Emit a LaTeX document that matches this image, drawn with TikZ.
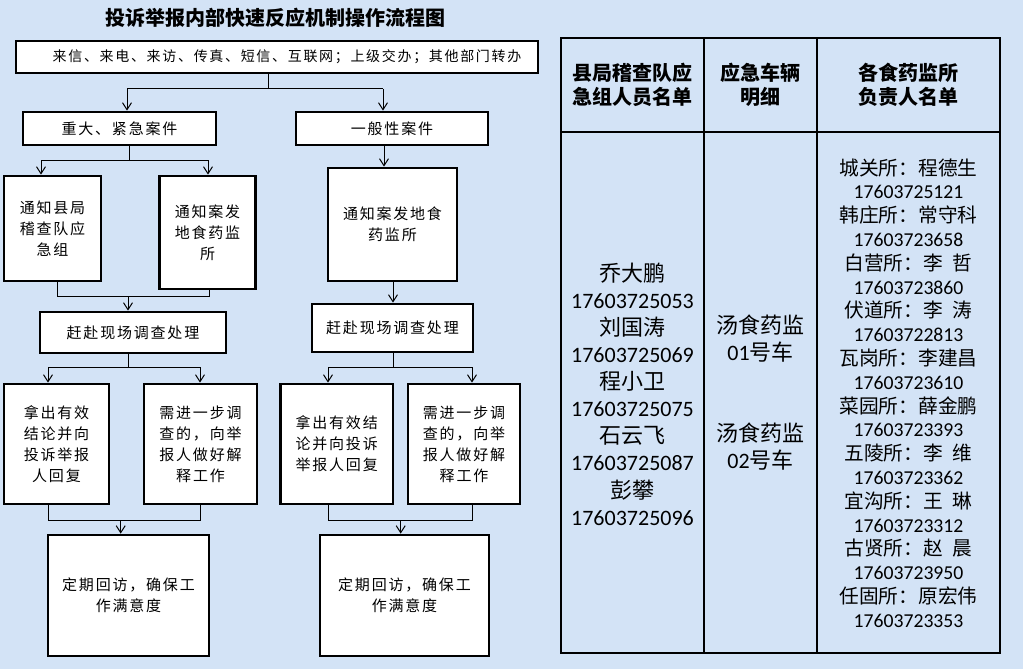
\documentclass[tikz,border=0pt]{standalone}
\usepackage{fontspec}
\usetikzlibrary{arrows.meta}
\newfontfamily\cjk{Noto Sans CJK SC}
\newfontfamily\boxcjk[LetterSpace=12]{Noto Sans CJK SC}
\newfontfamily\lat{Carlito}
\definecolor{bgblue}{RGB}{211,227,246}
\tikzset{
  fbox/.style={draw=black, line width=2.8pt, fill=white, align=center, inner sep=0pt,
    font=\boxcjk\fontsize{15}{21}\selectfont},
  ln/.style={line width=1pt, draw=black},
  arr/.style={ln, -{Straight Barb[length=7pt,width=9pt,line width=1pt]}},
  tline/.style={line width=1.1pt, draw=black},
  thead/.style={align=center, inner sep=0pt, font=\cjk\bfseries\fontsize{20}{24}\selectfont},
  tbig/.style={align=center, inner sep=0pt, font=\cjk\fontsize{22}{27.1}\selectfont},
  tsmall/.style={align=center, inner sep=0pt, font=\cjk\fontsize{19.7}{23.8}\selectfont},
}
\begin{document}
\begin{tikzpicture}[x=1pt,y=-1pt]
\useasboundingbox (0,0) rectangle (1023,669);
\fill[bgblue] (0,0) rectangle (1023,669);

% title
\node[font=\cjk\bfseries\fontsize{20}{24}\selectfont] (title) at (275,18) {投诉举报内部快速反应机制操作流程图};

% flowchart boxes
\node[fbox, minimum width=522, minimum height=32, font=\boxcjk\fontsize{14}{18}\selectfont] (src) at (277,57) {\hspace*{20pt}来信、来电、来访、传真、短信、互联网；上级交办；其他部门转办};
\node[fbox, minimum width=193, minimum height=33] (A) at (119.5,128.5) {重大、紧急案件};
\node[fbox, minimum width=192, minimum height=33] (B) at (392,128.5) {一般性案件};
\node[fbox, minimum width=97, minimum height=105] (C1) at (52.5,228.5) {通知县局\\稽查队应\\急组};
\node[fbox, minimum width=96, minimum height=113] (C2) at (207.5,232.5) {通知案发\\地食药监\\所};
\node[fbox, minimum width=129, minimum height=113] (C3) at (392.5,224.5) {通知案发地食\\药监所};
\node[fbox, minimum width=186, minimum height=41] (D1) at (133,332.5) {赶赴现场调查处理};
\node[fbox, minimum width=161, minimum height=48] (D2) at (392.5,328) {赶赴现场调查处理};
\node[fbox, minimum width=105, minimum height=120] (E1) at (56.5,444) {拿出有效\\结论并向\\投诉举报\\人回复};
\node[fbox, minimum width=113, minimum height=120] (E2) at (200.5,444) {需进一步调\\查的，向举\\报人做好解\\释工作};
\node[fbox, minimum width=112.5, minimum height=120] (E3) at (336.7,444) {拿出有效结\\论并向投诉\\举报人回复};
\node[fbox, minimum width=112, minimum height=120] (E4) at (464,444) {需进一步调\\查的，向举\\报人做好解\\释工作};
\node[fbox, minimum width=161, minimum height=121] (F1) at (128.5,595.5) {定期回访，确保工\\作满意度};
\node[fbox, minimum width=169, minimum height=121] (F2) at (404.5,595.5) {定期回访，确保工\\作满意度};

% connectors: top split
\coordinate (t0) at (268,89);
\coordinate (tA) at (127,89);
\coordinate (tB) at (383,89);
\draw[ln] (src.south -| t0) -- (t0);
\draw[ln] (tA) -- (tB);
\draw[arr] (tA) -- (tA |- A.north);
\draw[arr] (tB) -- (tB |- B.north);

% left branch split
\coordinate (l0) at (129,160);
\coordinate (l1) at (41,160);
\coordinate (l2) at (208,160);
\draw[ln] (A.south -| l0) -- (l0);
\draw[ln] (l1) -- (l2);
\draw[arr] (l1) -- (l1 |- C1.north);
\draw[arr] (l2) -- (l2 |- C2.north);

% right branch
\coordinate (r0) at (384,150);
\draw[arr] (B.south -| r0) -- (r0 |- C3.north);

% left merge to D1
\coordinate (m1) at (57,296);
\coordinate (m2) at (209,296);
\coordinate (m0) at (128,296);
\draw[ln] (m1 |- C1.south) -- (m1) -- (m2) -- (m2 |- C2.south);
\draw[arr] (m0) -- (m0 |- D1.north);

% right C3 to D2
\coordinate (r1) at (393,290);
\draw[arr] (C3.south -| r1) -- (r1 |- D2.north);

% left split to E1,E2
\coordinate (s0) at (128,367);
\coordinate (s1) at (48,367);
\coordinate (s2) at (200,367);
\draw[ln] (D1.south -| s0) -- (s0);
\draw[ln] (s1) -- (s2);
\draw[arr] (s1) -- (s1 |- E1.north);
\draw[arr] (s2) -- (s2 |- E2.north);

% right split to E3,E4
\coordinate (u0) at (393,367);
\coordinate (u1) at (328,367);
\coordinate (u2) at (472,367);
\draw[ln] (D2.south -| u0) -- (u0);
\draw[ln] (u1) -- (u2);
\draw[arr] (u1) -- (u1 |- E3.north);
\draw[arr] (u2) -- (u2 |- E4.north);

% bottom merges
\coordinate (b1) at (48,520);
\coordinate (b2) at (200,520);
\coordinate (b0) at (120.7,520);
\draw[ln] (b1 |- E1.south) -- (b1) -- (b2) -- (b2 |- E2.south);
\draw[arr] (b0) -- (b0 |- F1.north);

\coordinate (v1) at (328,520);
\coordinate (v2) at (472,520);
\coordinate (v0) at (400.7,520);
\draw[ln] (v1 |- E3.south) -- (v1) -- (v2) -- (v2 |- E4.south);
\draw[arr] (v0) -- (v0 |- F2.north);

% table
\draw[tline] (561,38) rectangle (1000,653);
\draw[tline] (704,38) -- (704,653);
\draw[tline] (817,38) -- (817,653);
\draw[tline] (561,132) -- (1000,132);

\node[thead] (h1) at (632.5,85) {县局稽查队应\\急组人员名单};
\node[thead] (h2) at (760.5,85) {应急车辆\\明细};
\node[thead] (h3) at (908.5,85) {各食药监所\\负责人名单};

\node[tbig] (c1) at (632.5,394) {乔大鹏\\{\lat 17603725053}\\刘国涛\\{\lat 17603725069}\\程小卫\\{\lat 17603725075}\\石云飞\\{\lat 17603725087}\\彭攀\\{\lat 17603725096}};
\node[tbig] (c2) at (760.5,392.5) {汤食药监\\{\lat 01}号车\\[54.2pt]汤食药监\\{\lat 02}号车};
\node[tsmall] (c3) at (908.5,393) {城关所：程德生\\{\lat 17603725121}\\韩庄所：常守科\\{\lat 17603723658}\\白营所：李\enspace 哲\\{\lat 17603723860}\\伏道所：李\enspace 涛\\{\lat 17603722813}\\瓦岗所：李建昌\\{\lat 17603723610}\\菜园所：薛金鹏\\{\lat 17603723393}\\五陵所：李\enspace 维\\{\lat 17603723362}\\宜沟所：王\enspace 琳\\{\lat 17603723312}\\古贤所：赵\enspace 晨\\{\lat 17603723950}\\任固所：原宏伟\\{\lat 17603723353}};
\end{tikzpicture}
\end{document}
